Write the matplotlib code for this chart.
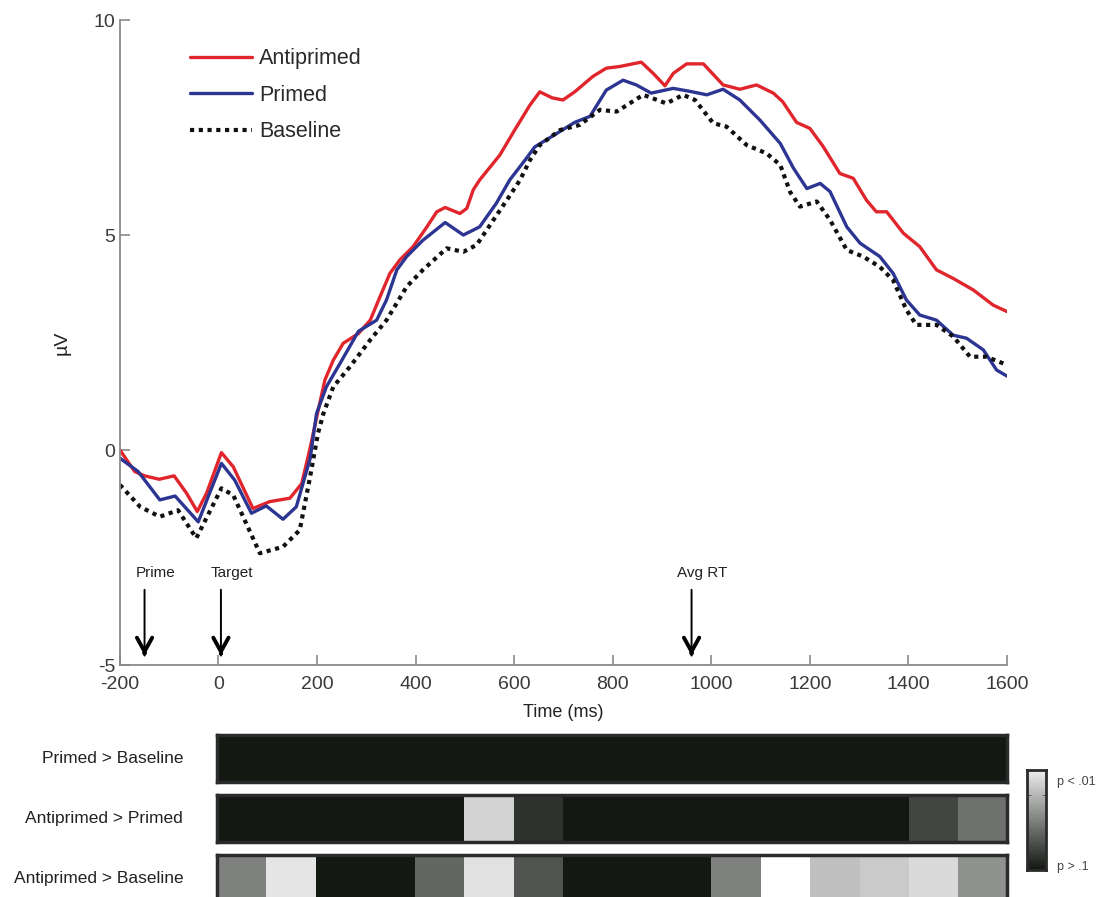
import numpy as np
import matplotlib
matplotlib.use("Agg")
import matplotlib.pyplot as plt
from matplotlib.colors import LinearSegmentedColormap

plt.rcParams["font.family"] = ["Liberation Sans", "DejaVu Sans"]
plt.rcParams["axes.unicode_minus"] = False

# ERP waveforms (time in ms, amplitude in uV)
anti_t = [-200, -170, -150, -120, -90, -65, -43, -24, 6, 30, 70, 104, 145, 169, 186, 200,
          216, 233, 253, 284, 308, 328, 348, 368, 395, 423, 443, 460, 490, 504, 517, 530,
          571, 601, 632, 652, 677, 699, 723, 760, 787, 815, 858, 882, 906, 923, 950, 984,
          1024, 1058, 1092, 1126, 1145, 1173, 1200, 1227, 1261, 1288, 1315, 1335, 1356,
          1390, 1423, 1457, 1491, 1532, 1572, 1600]
anti_v = [0.0, -0.5, -0.6, -0.68, -0.6, -1.0, -1.43, -1.0, -0.06, -0.39, -1.36, -1.2, -1.12,
          -0.78, 0.05, 0.8, 1.63, 2.09, 2.48, 2.71, 3.02, 3.57, 4.11, 4.42, 4.73, 5.19, 5.54,
          5.64, 5.5, 5.62, 6.05, 6.28, 6.86, 7.44, 8.02, 8.33, 8.19, 8.14, 8.33, 8.69, 8.88,
          8.92, 9.02, 8.76, 8.47, 8.76, 8.98, 8.98, 8.49, 8.39, 8.49, 8.3, 8.1, 7.62, 7.48,
          7.06, 6.43, 6.32, 5.81, 5.54, 5.54, 5.04, 4.73, 4.19, 3.99, 3.72, 3.37, 3.22]

primed_t = [-200, -163, -119, -88, -41, 6, 33, 67, 97, 131, 158, 186, 199, 219, 247, 284,
            321, 341, 362, 382, 415, 460, 497, 530, 564, 591, 622, 642, 682, 723, 754, 787,
            821, 848, 878, 923, 957, 991, 1024, 1058, 1099, 1140, 1167, 1194, 1221, 1241,
            1275, 1302, 1342, 1369, 1396, 1423, 1457, 1491, 1518, 1552, 1579, 1600]
primed_v = [-0.19, -0.5, -1.16, -1.07, -1.67, -0.31, -0.7, -1.47, -1.3, -1.61, -1.32, -0.2,
            0.85, 1.47, 2.02, 2.76, 3.02, 3.49, 4.19, 4.5, 4.88, 5.29, 5.0, 5.19, 5.74, 6.28,
            6.74, 7.05, 7.33, 7.62, 7.76, 8.37, 8.6, 8.49, 8.3, 8.41, 8.34, 8.26, 8.39, 8.14,
            7.67, 7.13, 6.55, 6.08, 6.2, 6.01, 5.19, 4.81, 4.5, 4.11, 3.49, 3.14, 3.02, 2.67,
            2.6, 2.33, 1.86, 1.72]

base_t = [-200, -159, -119, -82, -45, 6, 30, 84, 131, 165, 186, 202, 213, 233, 267, 308,
          341, 382, 415, 463, 497, 524, 558, 585, 612, 632, 652, 693, 733, 774, 808, 862,
          909, 943, 967, 1004, 1031, 1072, 1112, 1140, 1160, 1180, 1214, 1241, 1275, 1308,
          1342, 1369, 1396, 1416, 1457, 1491, 1525, 1558, 1600]
base_v = [-0.81, -1.32, -1.55, -1.4, -2.05, -0.89, -1.05, -2.4, -2.25, -1.86, -0.62, 0.39,
          0.85, 1.47, 1.94, 2.56, 3.02, 3.8, 4.19, 4.69, 4.61, 4.77, 5.35, 5.81, 6.28, 6.74,
          7.09, 7.44, 7.56, 7.91, 7.87, 8.26, 8.06, 8.26, 8.14, 7.6, 7.52, 7.09, 6.9, 6.63,
          6.0, 5.66, 5.78, 5.35, 4.65, 4.5, 4.26, 3.95, 3.26, 2.91, 2.91, 2.64, 2.17, 2.17,
          1.98]

# event markers (ms)
events = ["Prime", "Target", "Avg RT"]
event_t = [-150, 5, 960]

# significance per 100 ms bin, 0 = p > .1, 1 = p < .01
bin_edges = np.arange(0, 1700, 100)
contrasts = ["Primed > Baseline", "Antiprimed > Primed", "Antiprimed > Baseline"]
sig_primed_base = [0, 0, 0, 0, 0, 0, 0, 0, 0, 0, 0, 0, 0, 0, 0, 0]
sig_anti_primed = [0, 0, 0, 0, 0, 0.81, 0.12, 0, 0, 0, 0, 0, 0, 0, 0.2, 0.39]
sig_anti_base = [0.46, 0.89, 0, 0, 0.34, 0.87, 0.26, 0, 0, 0, 0.46, 1.0, 0.73, 0.77, 0.84, 0.53]

fig = plt.figure(figsize=(11, 8.97), dpi=100)
ax = fig.add_axes([0.109, 0.2586, 0.8064, 0.7191])

ax.plot(anti_t, anti_v, color="#e0262c", lw=2.4, label="Antiprimed",
        solid_joinstyle="round", solid_capstyle="round")
ax.plot(primed_t, primed_v, color="#2c3591", lw=2.4, label="Primed",
        solid_joinstyle="round", solid_capstyle="round")
ax.plot(base_t, base_v, color="#111111", lw=3.0, dashes=(1.0, 1.1), label="Baseline")

ax.set_xlim(-200, 1600)
ax.set_ylim(-5, 10)
ax.set_xticks(np.arange(-200, 1601, 200))
ax.set_yticks([-5, 0, 5, 10])
for s in ["top", "right"]:
    ax.spines[s].set_visible(False)
for s in ["left", "bottom"]:
    ax.spines[s].set_color("#8a8a8a")
    ax.spines[s].set_linewidth(1.3)
ax.tick_params(direction="in", length=7, width=1.2, color="#8a8a8a",
               labelsize=14, labelcolor="#3a3a3a")
ax.tick_params(axis="x", pad=8)
ax.set_xlabel("Time (ms)", fontsize=13, color="#222222", labelpad=8)
ax.set_ylabel("µV", fontsize=14, color="#222222", labelpad=16)

leg = ax.legend(loc="upper left", bbox_to_anchor=(0.079, 0.956), frameon=False,
                fontsize=15.5, handlelength=2.9, handletextpad=0.3, labelspacing=0.72,
                borderpad=0, borderaxespad=0)
for txt in leg.get_texts():
    txt.set_color("#2a2a2a")

for name, t in zip(events, event_t):
    ax.annotate("", xy=(t, -4.78), xytext=(t, -3.25),
                arrowprops=dict(arrowstyle="-", lw=1.4, color="black",
                                shrinkA=0, shrinkB=0))
    ax.annotate("", xy=(t, -4.78), xytext=(0, 2), textcoords="offset points",
                arrowprops=dict(arrowstyle="->,head_length=1.0,head_width=0.55",
                                lw=2.8, color="black", shrinkA=0, shrinkB=0))
    ax.text(t + 22, -2.85, name, fontsize=11, ha="center", va="center", color="#222222")

cmap = LinearSegmentedColormap.from_list("sig", ["#131813", "#ffffff"])
rows = [sig_primed_base, sig_anti_primed, sig_anti_base]
bottoms = [0.1282, 0.0613, -0.0056]
for label, vals, b in zip(contrasts, rows, bottoms):
    hax = fig.add_axes([0.1973, b, 0.7182, 0.0524])
    hax.imshow(np.array(vals)[None, :], cmap=cmap, vmin=0, vmax=1, aspect="auto",
               extent=[bin_edges[0], bin_edges[-1], 0, 1], interpolation="nearest")
    hax.set_xticks([])
    hax.set_yticks([])
    for s in hax.spines.values():
        s.set_color("#2b2b2b")
        s.set_linewidth(2.5)
    fig.text(0.1665, b + 0.0262, label, fontsize=12.5, ha="right", va="center",
             color="#222222")

cax = fig.add_axes([0.9336, 0.030, 0.0173, 0.1115])
grad = np.linspace(0, 0.93, 100)[:, None]
cax.imshow(grad, cmap=cmap, vmin=0, vmax=1, aspect="auto", origin="lower",
           extent=[0, 1, 0, 1])
cax.set_xticks([])
cax.yaxis.tick_right()
cax.set_yticks([0.05, 0.9])
cax.set_yticklabels(["p > .1", "p < .01"])
cax.tick_params(axis="y", length=0, labelsize=9, labelcolor="#444444", pad=8)
cax.set_yticks([0.75], minor=True)
cax.tick_params(axis="y", which="minor", length=3, direction="in", left=True,
                right=True, color="#555555")
for s in cax.spines.values():
    s.set_color("#2b2b2b")
    s.set_linewidth(2)

fig.savefig("out.png", dpi=100)
